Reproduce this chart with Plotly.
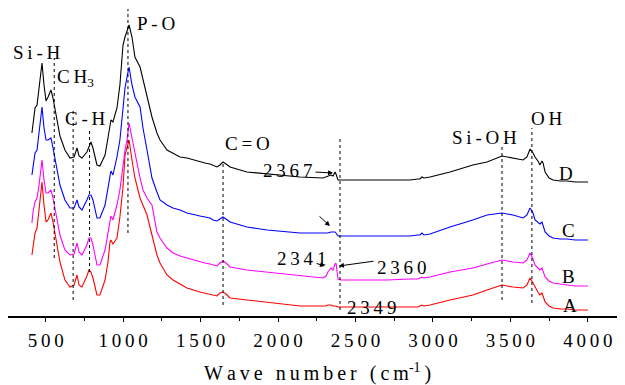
import plotly.graph_objects as go

# ---- data -------------------------------------------------------------
wavenumber = [411, 418, 431, 444, 457, 476, 489, 502, 515, 534,
              547, 573, 592, 624, 657, 683, 702, 715, 734, 766,
              779, 792, 805, 831, 850, 883, 902, 915, 921, 934,
              960, 979, 999, 1012, 1025, 1038, 1057, 1076, 1109, 1128,
              1154, 1186, 1218, 1238, 1283, 1322, 1367, 1412, 1496, 1528,
              1560, 1580, 1606, 1625, 1644, 1664, 1690, 1799, 1929, 2142,
              2290, 2310, 2322, 2342, 2355, 2368, 2374, 2387, 2406, 2529,
              2703, 2852, 2903, 2916, 2929, 2942, 2981, 3110, 3258, 3349,
              3446, 3517, 3582, 3607, 3627, 3646, 3659, 3678, 3691, 3704,
              3711, 3724, 3750, 3776, 3821, 3866, 3918, 4001]

series_D = [1.83, 1.94, 2.08, 2.11, 2.28, 2.53, 2.31, 2.15, 2.19, 2.26,
            2.18, 1.96, 1.80, 1.66, 1.58, 1.59, 1.68, 1.60, 1.58, 1.64,
            1.70, 1.74, 1.68, 1.51, 1.50, 1.61, 1.78, 1.93, 1.96, 1.94,
            2.08, 2.31, 2.71, 2.79, 2.84, 2.91, 2.79, 2.59, 2.49, 2.36,
            2.18, 1.99, 1.83, 1.76, 1.66, 1.63, 1.59, 1.58, 1.54, 1.53,
            1.52, 1.51, 1.49, 1.51, 1.54, 1.52, 1.49, 1.44, 1.42, 1.39,
            1.38, 1.39, 1.40, 1.41, 1.40, 1.44, 1.42, 1.36, 1.36, 1.36,
            1.36, 1.36, 1.37, 1.37, 1.39, 1.38, 1.39, 1.44, 1.51, 1.54,
            1.60, 1.58, 1.56, 1.59, 1.67, 1.63, 1.59, 1.55, 1.51, 1.55,
            1.53, 1.44, 1.38, 1.36, 1.35, 1.35, 1.34, 1.34]

series_C = [1.41, 1.51, 1.63, 1.66, 1.84, 2.09, 1.88, 1.76, 1.76, 1.78,
            1.68, 1.46, 1.31, 1.16, 1.08, 1.08, 1.16, 1.09, 1.06, 1.16,
            1.21, 1.21, 1.16, 0.98, 0.98, 1.11, 1.28, 1.43, 1.45, 1.41,
            1.59, 1.76, 2.09, 2.28, 2.39, 2.49, 2.31, 2.19, 2.09, 1.88,
            1.66, 1.38, 1.24, 1.16, 1.11, 1.08, 1.06, 1.03, 1.00, 0.99,
            0.98, 0.96, 0.95, 0.97, 0.99, 0.97, 0.94, 0.89, 0.86, 0.83,
            0.83, 0.83, 0.83, 0.84, 0.84, 0.84, 0.83, 0.80, 0.80, 0.80,
            0.80, 0.80, 0.81, 0.81, 0.83, 0.81, 0.82, 0.89, 0.96, 1.01,
            1.03, 1.01, 0.98, 1.01, 1.08, 1.03, 0.96, 0.94, 0.92, 0.94,
            0.91, 0.84, 0.80, 0.78, 0.77, 0.77, 0.76, 0.76]

series_B = [0.93, 1.04, 1.14, 1.18, 1.31, 1.56, 1.36, 1.23, 1.23, 1.26,
            1.18, 0.96, 0.81, 0.66, 0.61, 0.62, 0.73, 0.64, 0.61, 0.71,
            0.78, 0.78, 0.71, 0.51, 0.51, 0.66, 0.84, 0.98, 1.00, 0.96,
            1.11, 1.26, 1.51, 1.66, 1.76, 1.93, 1.78, 1.63, 1.38, 1.26,
            1.18, 1.11, 0.84, 0.78, 0.68, 0.63, 0.60, 0.58, 0.54, 0.53,
            0.52, 0.51, 0.50, 0.53, 0.55, 0.53, 0.49, 0.46, 0.44, 0.40,
            0.38, 0.40, 0.44, 0.48, 0.46, 0.52, 0.53, 0.37, 0.36, 0.36,
            0.36, 0.37, 0.37, 0.38, 0.39, 0.38, 0.39, 0.44, 0.48, 0.52,
            0.56, 0.54, 0.53, 0.56, 0.63, 0.57, 0.51, 0.48, 0.46, 0.48,
            0.45, 0.39, 0.35, 0.33, 0.32, 0.31, 0.30, 0.30]

series_A = [0.61, 0.71, 0.83, 0.88, 1.06, 1.34, 1.11, 0.94, 0.96, 1.03,
            0.94, 0.71, 0.54, 0.36, 0.29, 0.31, 0.41, 0.31, 0.29, 0.40,
            0.46, 0.44, 0.38, 0.21, 0.21, 0.36, 0.54, 0.74, 0.76, 0.72,
            0.78, 0.99, 1.29, 1.61, 1.68, 1.76, 1.56, 1.38, 1.18, 1.11,
            1.01, 0.81, 0.61, 0.53, 0.41, 0.36, 0.32, 0.28, 0.24, 0.23,
            0.22, 0.21, 0.20, 0.23, 0.24, 0.22, 0.18, 0.16, 0.14, 0.10,
            0.10, 0.10, 0.11, 0.11, 0.10, 0.10, 0.10, 0.09, 0.09, 0.09,
            0.09, 0.09, 0.09, 0.10, 0.11, 0.10, 0.11, 0.16, 0.21, 0.26,
            0.31, 0.29, 0.28, 0.31, 0.38, 0.33, 0.29, 0.24, 0.21, 0.23,
            0.20, 0.14, 0.10, 0.08, 0.07, 0.07, 0.06, 0.06]

series_names = ["A", "B", "C", "D"]
series_colors = ["#ff0000", "#ff00ff", "#0000ff", "#000000"]

# band guide lines: position, lower end, upper end
band_pos = [555, 677, 783, 1031, 1645, 2400, 3446, 3639]
band_low = [0.58, 0.16, 0.44, 0.83, 0.11, 0.06, 0.16, 0.13]
band_high = [2.58, 2.06, 1.86, 3.07, 1.53, 1.79, 1.71, 1.88]

tick_vals = [500, 1000, 1500, 2000, 2500, 3000, 3500, 4000]
tick_labels = ["500", "1000", "1500", "2000", "2500", "3000", "3500", "4000"]
minor_vals = [750, 1250, 1750, 2250, 2750, 3250, 3750]

# ---- figure -----------------------------------------------------------
TS = "\u2009"


def spaced(s):
    return TS.join(list(s))


FONT = "Liberation Serif, Times New Roman, serif"

fig = go.Figure()
for name, ys, col in zip(series_names, [series_A, series_B, series_C, series_D], series_colors):
    fig.add_trace(go.Scatter(x=wavenumber, y=ys, mode="lines", name=name,
                             line=dict(color=col, width=1.1), showlegend=False))

for xp, y0, y1 in zip(band_pos, band_low, band_high):
    fig.add_shape(type="line", xref="x", yref="y", x0=xp, x1=xp, y0=y0, y1=y1,
                  line=dict(color="black", width=1, dash="dot"))

annots = []


def label(text, x, y, xanchor="center", size=19):
    annots.append(dict(text=text, x=x, y=y, xref="x", yref="y", showarrow=False,
                       xanchor=xanchor, yanchor="middle",
                       font=dict(family=FONT, size=size, color="black")))


label(spaced("Si-H"), 444, 2.64)
label(spaced("CH") + "<sub>3</sub>", 560, 2.38, xanchor="left")
label(spaced("C-H"), 760, 1.98)
label(spaced("P-O"), 1076, 2.93, xanchor="left")
label(spaced("C=O"), 1644, 1.73, xanchor="left")
label(spaced("2367"), 2064, 1.46)
label(spaced("2341"), 2154, 0.58)
label(spaced("2360"), 2800, 0.49)
label(spaced("2349"), 2606, 0.09)
label(spaced("Si-OH"), 3336, 1.79)
label(spaced("OH"), 3736, 1.98)
label("D", 3862, 1.43)
label("C", 3872, 0.86)
label("B", 3872, 0.40)
label("A", 3885, 0.11)


def arrow(x_head, y_head, x_tail, y_tail):
    annots.append(dict(x=x_head, y=y_head, ax=x_tail, ay=y_tail, xref="x", yref="y",
                       axref="x", ayref="y", text="", showarrow=True,
                       arrowhead=2, arrowsize=1, arrowwidth=1, arrowcolor="black"))


arrow(2355, 1.43, 2232, 1.44)
arrow(2335, 0.90, 2258, 1.01)
arrow(2303, 0.50, 2239, 0.53)
arrow(2393, 0.50, 2626, 0.55)

# page body adds an 8 px offset; the figure is sized to fill the rest of the window
annots.append(dict(text=spaced("Wave number (cm") + "<sup>-1</sup>" + TS + ")",
                   x=0.5016, y=-0.185, xref="paper", yref="paper", showarrow=False,
                   xanchor="center", yanchor="middle",
                   font=dict(family=FONT, size=20, color="black")))

fig.update_layout(
    width=617, height=377,
    margin=dict(l=0, r=0, t=0, b=69),
    paper_bgcolor="white", plot_bgcolor="white",
    annotations=annots,
    xaxis=dict(range=[256.5, 4240], showgrid=False, zeroline=False,
               showline=True, linecolor="black", linewidth=1.5,
               ticks="outside", ticklen=4, tickwidth=1, tickcolor="black",
               tickmode="array", tickvals=tick_vals, ticktext=[spaced(t) for t in tick_labels],
               tickfont=dict(family=FONT, size=19, color="black"),
               ticklabelstandoff=2,
               minor=dict(tickmode="array", tickvals=minor_vals, ticks="outside",
                          ticklen=3, tickcolor="black")),
    yaxis=dict(range=[0, 3.08], visible=False),
)

fig.write_html("out.html")
